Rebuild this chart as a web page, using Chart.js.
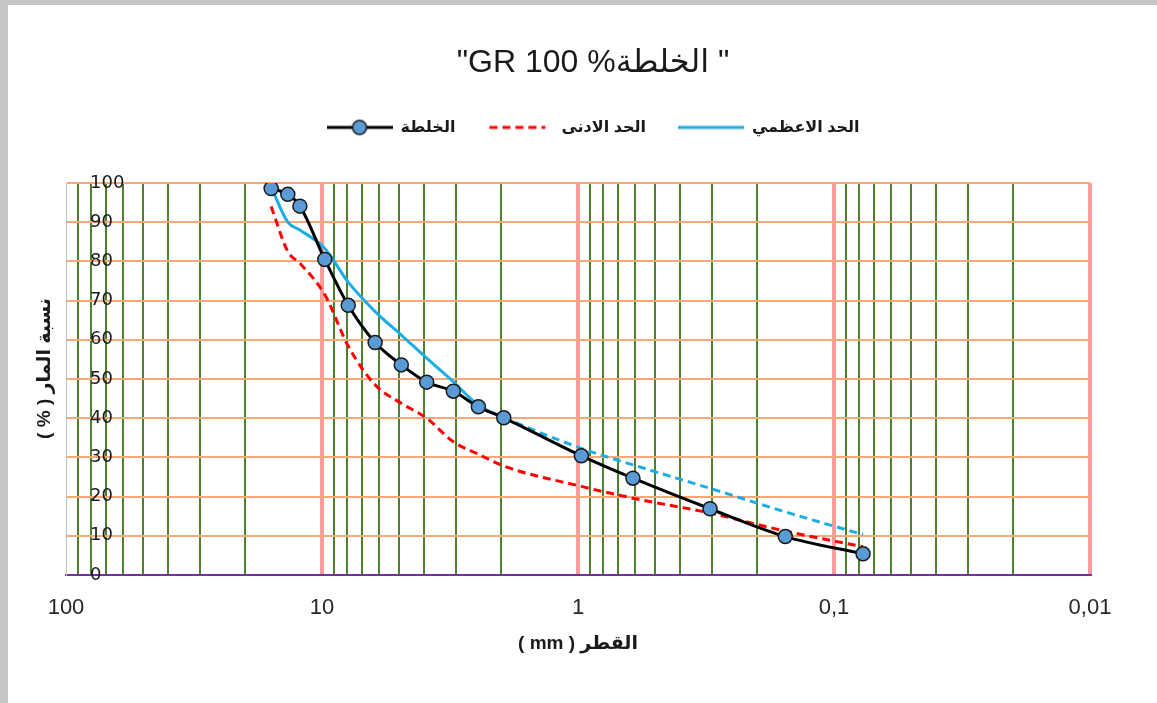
<!DOCTYPE html>
<html>
<head>
<meta charset="utf-8">
<script src="https://cdn.jsdelivr.net/npm/chart.js@4.4.0/dist/chart.umd.min.js"></script>
<style>
  html, body { margin: 0; padding: 0; overflow: hidden; background: #fff; }
  #frame { position: absolute; left: 0; top: 0; width: 1157px; height: 703px; box-sizing: border-box;
           border-top: 5px solid #c6c6c6; border-left: 8px solid #c6c6c6; overflow: hidden; }
  #wrap { position: absolute; left: 0; top: 0; width: 1170px; height: 698px; }
</style>
</head>
<body>
<div id="frame"><div id="wrap"><canvas id="grading" width="1170" height="698"></canvas></div></div>
<script>
// sieve sizes (mm) and % passing
const sieveSizes = [15.8, 13.6, 12.2, 9.75, 7.9, 6.2, 4.9, 3.9, 3.07, 2.45, 1.95, 0.97, 0.61, 0.305, 0.155, 0.077];
const mixPassing = [98.6, 97.1, 94.1, 80.5, 68.8, 59.3, 53.6, 49.2, 46.9, 42.9, 40.1, 30.4, 24.7, 16.9, 9.8, 5.4];
const lowerLimit = [94, 82.5, 79.5, 71.5, 58.4, 48.5, 43.8, 40, 34, 30.8, 27.8, 22.6, 19.6, 15.8, 11.2, 7.2];
const upperLimit = [99, 90, 88, 83.3, 74.7, 67.2, 61.2, 55.3, 49.3, 43.3, 40.2, 32.3, 28.1, 22.1, 16.1, 10.3];

const seriesNames = ['الخلطة', 'الحد الادنى', 'الحد الاعظمي'];
const decades = [100, 10, 1, 0.1, 0.01];
const decadeLabels = ['100', '10', '1', '0,1', '0,01'];
const yTickStep = 10;

const chartTitle = '"GR 100 %الخلطة "';
const xTitle = '( mm ) القطر';
const yTitle = '    ( % ) نسبة المار';

const FONT = "'Liberation Sans', 'DejaVu Sans', sans-serif";

// all 1..9 multiples of each decade for the grid
const xGridValues = [];
decades.slice(1).forEach(d => {
  for (let m = 1; m <= 9; m++) xGridValues.push(m * d);
});
xGridValues.push(decades[0]);

function isDecade(v) {
  const l = Math.log10(v);
  return Math.abs(l - Math.round(l)) < 1e-9;
}

function pts(ys) {
  return sieveSizes.map((s, i) => ({ x: s, y: ys[i] }));
}

function makeIcon(draw) {
  const c = document.createElement('canvas');
  c.width = 66; c.height = 18;
  draw(c.getContext('2d'));
  return c;
}

const legendIcons = [
  makeIcon(g => {
    g.strokeStyle = '#000'; g.lineWidth = 3;
    g.beginPath(); g.moveTo(0, 9); g.lineTo(66, 9); g.stroke();
    g.beginPath(); g.arc(33, 9, 7, 0, Math.PI * 2);
    g.fillStyle = '#5b9bd5'; g.fill();
    g.lineWidth = 1.5; g.strokeStyle = '#1a1a1a'; g.stroke();
  }),
  makeIcon(g => {
    g.strokeStyle = '#ff0000'; g.lineWidth = 3; g.setLineDash([8, 5]);
    g.beginPath(); g.moveTo(2, 9); g.lineTo(58, 9); g.stroke();
  }),
  makeIcon(g => {
    g.strokeStyle = '#1cade4'; g.lineWidth = 3;
    g.beginPath(); g.moveTo(0, 9); g.lineTo(66, 9); g.stroke();
  })
];

new Chart(document.getElementById('grading'), {
  type: 'line',
  data: {
    datasets: [{
      label: seriesNames[0],
      data: pts(mixPassing),
      borderColor: '#000',
      borderWidth: 3,
      pointRadius: 7,
      pointBackgroundColor: '#5b9bd5',
      pointBorderColor: '#1a1a1a',
      pointBorderWidth: 1.5,
      cubicInterpolationMode: 'monotone'
    }, {
      label: seriesNames[1],
      data: pts(lowerLimit),
      borderColor: '#ff0000',
      borderWidth: 3,
      borderDash: [8, 5],
      pointRadius: 0,
      cubicInterpolationMode: 'monotone'
    }, {
      label: seriesNames[2],
      data: pts(upperLimit),
      borderColor: '#1cade4',
      borderWidth: 3,
      pointRadius: 0,
      cubicInterpolationMode: 'monotone',
      segment: {
        borderDash: ctx => ctx.p0DataIndex >= 10 ? [8, 5] : undefined
      }
    }]
  },
  options: {
    responsive: false,
    animation: false,
    devicePixelRatio: 1,
    layout: { padding: { left: 14, right: 14, top: 0, bottom: 48 } },
    plugins: {
      title: {
        display: true,
        text: chartTitle,
        color: '#1a1a1a',
        font: { family: FONT, size: 32, weight: 'normal' },
        padding: { top: 39, bottom: 5 }
      },
      legend: {
        display: true,
        position: 'top',
        labels: {
          usePointStyle: true,
          pointStyleWidth: 66,
          padding: 32,
          color: '#1a1a1a',
          font: { family: FONT, size: 16, weight: 'bold' },
          generateLabels: chart => chart.data.datasets.map((ds, i) => ({
            text: ds.label,
            pointStyle: legendIcons[i],
            datasetIndex: i,
            hidden: false,
            lineWidth: 0,
            strokeStyle: 'transparent',
            fillStyle: 'transparent',
            fontColor: '#1a1a1a'
          }))
        }
      },
      // empty spacer between legend and plot
      subtitle: {
        display: true,
        text: '',
        weight: 900,
        font: { size: 1 },
        padding: { top: 36.4, bottom: 0 }
      },
      tooltip: { enabled: false }
    },
    scales: {
      x: {
        type: 'logarithmic',
        reverse: true,
        min: 0.01,
        max: 100,
        afterBuildTicks: scale => {
          scale.ticks = xGridValues.map(v => ({ value: v }));
        },
        afterFit: scale => { scale.height = 80; },
        ticks: {
          autoSkip: false,
          maxRotation: 0,
          padding: 20,
          color: '#262626',
          font: { family: FONT, size: 22 },
          callback: value => {
            const i = decades.findIndex(d => Math.abs(d - value) / d < 1e-9);
            return i >= 0 ? decadeLabels[i] : '';
          }
        },
        grid: {
          drawTicks: false,
          color: c => {
            const v = c.tick.value;
            if (v >= 99.99) return 'rgba(0,0,0,0)';
            return isDecade(v) ? '#ff9b9b' : '#4f8030';
          },
          lineWidth: c => isDecade(c.tick.value) ? 4 : 2
        },
        border: { color: '#7030a0', width: 2 },
        title: {
          display: true,
          text: xTitle,
          color: '#1a1a1a',
          font: { family: FONT, size: 19, weight: 'bold' },
          padding: { top: 10, bottom: 0 }
        }
      },
      y: {
        min: 0,
        max: 100,
        afterFit: scale => { scale.width = 44; },
        ticks: {
          stepSize: yTickStep,
          mirror: true,
          padding: 24,
          color: '#1a1a1a',
          font: { family: "'DejaVu Sans', sans-serif", size: 18 }
        },
        grid: {
          drawTicks: false,
          color: c => c.tick.value === 0 ? '#7030a0' : '#f6a878',
          lineWidth: 2
        },
        border: { color: '#bfbfbf', width: 1 },
        title: {
          display: true,
          text: yTitle,
          color: '#1a1a1a',
          font: { family: FONT, size: 19, weight: 'bold' },
          padding: { top: 11.6, bottom: 9.6 }
        }
      },
      // blank strip on the right so the title sits where it does in the original
      rightGap: {
        position: 'right',
        afterFit: scale => { scale.width = 74; },
        ticks: { display: false },
        grid: { display: false, drawTicks: false },
        border: { display: false }
      }
    }
  }
});
</script>
</body>
</html>
